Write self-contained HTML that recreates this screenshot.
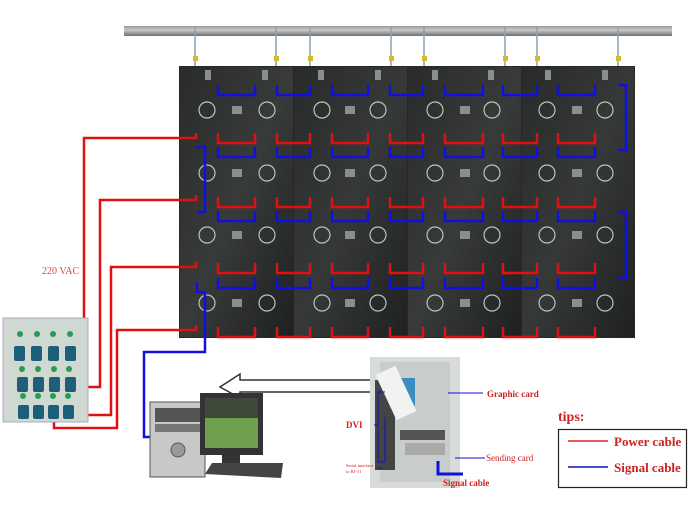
<!DOCTYPE html>
<html><head><meta charset="utf-8"><style>
html,body{margin:0;padding:0;background:#fff;}
svg{display:block}
text{font-family:"Liberation Serif",serif;}
</style></head><body>
<svg width="689" height="509" viewBox="0 0 689 509" xmlns="http://www.w3.org/2000/svg">
<defs>
<linearGradient id="bar" x1="0" y1="0" x2="0" y2="1"><stop offset="0" stop-color="#9a9a9a"/><stop offset="0.4" stop-color="#c8c8c8"/><stop offset="1" stop-color="#6e6e6e"/></linearGradient>
<linearGradient id="tile" x1="0" y1="0" x2="1" y2="1"><stop offset="0" stop-color="#2a2c2c"/><stop offset="0.5" stop-color="#3a3d3c"/><stop offset="1" stop-color="#1e2020"/></linearGradient>
</defs>
<!-- bar -->
<rect x="124" y="26" width="548" height="10" fill="url(#bar)"/>
<g stroke="#8aa0b0" stroke-width="1.5" fill="none">
<path d="M195 26v42M276 26v42M310 26v42M391 26v42M424 26v42M505 26v42M537 26v42M618 26v42"/>
</g>
<g fill="#d8b830"><rect x="193" y="56" width="5" height="5"/><rect x="274" y="56" width="5" height="5"/><rect x="308" y="56" width="5" height="5"/><rect x="389" y="56" width="5" height="5"/><rect x="422" y="56" width="5" height="5"/><rect x="503" y="56" width="5" height="5"/><rect x="535" y="56" width="5" height="5"/><rect x="616" y="56" width="5" height="5"/></g>
<!-- wall -->
<rect x="179" y="66" width="456" height="272" fill="#262828"/>
<g id="tiles">
<rect x="180" y="67" width="113" height="270" fill="url(#tile)" opacity="0.9"/>
<rect x="294" y="67" width="113" height="270" fill="url(#tile)" opacity="0.8"/>
<rect x="408" y="67" width="113" height="270" fill="url(#tile)" opacity="0.9"/>
<rect x="522" y="67" width="112" height="270" fill="url(#tile)" opacity="0.8"/>
</g>
<g fill="none" stroke="#b8c8c0" stroke-width="1.2">
<circle cx="207" cy="110" r="8"/><circle cx="267" cy="110" r="8"/><circle cx="322" cy="110" r="8"/><circle cx="378" cy="110" r="8"/><circle cx="435" cy="110" r="8"/><circle cx="492" cy="110" r="8"/><circle cx="547" cy="110" r="8"/><circle cx="605" cy="110" r="8"/>
<circle cx="207" cy="173" r="8"/><circle cx="267" cy="173" r="8"/><circle cx="322" cy="173" r="8"/><circle cx="378" cy="173" r="8"/><circle cx="435" cy="173" r="8"/><circle cx="492" cy="173" r="8"/><circle cx="547" cy="173" r="8"/><circle cx="605" cy="173" r="8"/>
<circle cx="207" cy="235" r="8"/><circle cx="267" cy="235" r="8"/><circle cx="322" cy="235" r="8"/><circle cx="378" cy="235" r="8"/><circle cx="435" cy="235" r="8"/><circle cx="492" cy="235" r="8"/><circle cx="547" cy="235" r="8"/><circle cx="605" cy="235" r="8"/>
<circle cx="207" cy="303" r="8"/><circle cx="267" cy="303" r="8"/><circle cx="322" cy="303" r="8"/><circle cx="378" cy="303" r="8"/><circle cx="435" cy="303" r="8"/><circle cx="492" cy="303" r="8"/><circle cx="547" cy="303" r="8"/><circle cx="605" cy="303" r="8"/>
</g>
<g fill="#8a8e8c">
<rect x="232" y="106" width="10" height="8"/><rect x="345" y="106" width="10" height="8"/><rect x="460" y="106" width="10" height="8"/><rect x="572" y="106" width="10" height="8"/>
<rect x="232" y="169" width="10" height="8"/><rect x="345" y="169" width="10" height="8"/><rect x="460" y="169" width="10" height="8"/><rect x="572" y="169" width="10" height="8"/>
<rect x="232" y="231" width="10" height="8"/><rect x="345" y="231" width="10" height="8"/><rect x="460" y="231" width="10" height="8"/><rect x="572" y="231" width="10" height="8"/>
<rect x="232" y="299" width="10" height="8"/><rect x="345" y="299" width="10" height="8"/><rect x="460" y="299" width="10" height="8"/><rect x="572" y="299" width="10" height="8"/>
<rect x="205" y="70" width="6" height="10"/><rect x="262" y="70" width="6" height="10"/><rect x="318" y="70" width="6" height="10"/><rect x="375" y="70" width="6" height="10"/><rect x="432" y="70" width="6" height="10"/><rect x="488" y="70" width="6" height="10"/><rect x="545" y="70" width="6" height="10"/><rect x="602" y="70" width="6" height="10"/>
</g>
<!-- brackets -->
<g fill="none" stroke-width="2.5">
<g stroke="#1010e0">
<path id="b1" d="M218 85v10h37v-10M277 85v10h33v-10M332 85v10h36v-10M390 85v10h33v-10M445 85v10h38v-10M503 85v10h34v-10M558 85v10h37v-10"/>
<use href="#b1" y="62"/><use href="#b1" y="126"/><use href="#b1" y="193"/>
<path d="M618 85h8v65h-8M618 212h8v66h-8"/>
<path d="M197 147h8v65h-8"/>
<path d="M197 282v10h8v60h-61v85h8"/>
</g>
<g stroke="#e01010">
<path id="r1" d="M218 133v10h37v-10M277 133v10h33v-10M332 133v10h36v-10M390 133v10h33v-10M445 133v10h38v-10M503 133v10h34v-10M558 133v10h37v-10"/>
<use href="#r1" y="64"/><use href="#r1" y="130"/><use href="#r1" y="194"/>
<path d="M196 133v5h-112v219h-12"/>
<path d="M196 195v5h-96v187h-30"/>
<path d="M196 262v5h-85v148h-41"/>
<path d="M196 325v5h-79v98h-63v-13"/>
</g>
</g>
<text x="42" y="274" font-size="10" fill="#e04040">220 VAC</text>
<!-- power box -->
<rect x="3" y="318" width="85" height="104" fill="#cfd9d2" stroke="#aab" stroke-width="1"/>
<g fill="#2a9a58"><circle cx="20" cy="334" r="3"/><circle cx="37" cy="334" r="3"/><circle cx="53" cy="334" r="3"/><circle cx="70" cy="334" r="3"/><circle cx="22" cy="369" r="3"/><circle cx="38" cy="369" r="3"/><circle cx="54" cy="369" r="3"/><circle cx="69" cy="369" r="3"/><circle cx="23" cy="396" r="3"/><circle cx="38" cy="396" r="3"/><circle cx="53" cy="396" r="3"/><circle cx="68" cy="396" r="3"/></g>
<g fill="#1d5f78"><rect x="14" y="346" width="11" height="15" rx="2"/><rect x="31" y="346" width="11" height="15" rx="2"/><rect x="48" y="346" width="11" height="15" rx="2"/><rect x="65" y="346" width="11" height="15" rx="2"/><rect x="17" y="377" width="11" height="15" rx="2"/><rect x="33" y="377" width="11" height="15" rx="2"/><rect x="49" y="377" width="11" height="15" rx="2"/><rect x="65" y="377" width="11" height="15" rx="2"/><rect x="18" y="405" width="11" height="14" rx="2"/><rect x="33" y="405" width="11" height="14" rx="2"/><rect x="48" y="405" width="11" height="14" rx="2"/><rect x="63" y="405" width="11" height="14" rx="2"/></g>
<!-- arrow -->
<path d="M370 380 L240 380 L240 374 L220 387 L240 398 L240 392 L370 392" fill="#fff" stroke="#333" stroke-width="1.5"/>
<!-- computer -->
<rect x="150" y="402" width="55" height="75" fill="#c8c8c8" stroke="#555"/>
<rect x="155" y="408" width="45" height="14" fill="#555"/>
<rect x="155" y="424" width="45" height="8" fill="#777"/>
<circle cx="178" cy="450" r="7" fill="#999" stroke="#555"/>
<rect x="200" y="393" width="63" height="62" fill="#333"/>
<rect x="205" y="398" width="53" height="50" fill="#6fa050"/>
<rect x="205" y="398" width="53" height="20" fill="#3d4a3a"/>
<rect x="222" y="455" width="18" height="8" fill="#333"/>
<path d="M205 474 L212 463 L283 463 L281 478 Z" fill="#444"/>
<!-- photo -->
<rect x="370" y="357" width="90" height="131" fill="#d8dcd8"/>
<rect x="380" y="362" width="70" height="120" fill="#c8ccca"/>
<rect x="395" y="378" width="20" height="28" fill="#3b8dc0"/>
<rect x="375" y="380" width="20" height="90" fill="#444"/>
<rect x="385" y="368" width="22" height="50" fill="#f2f2f2" transform="rotate(-25 396 393)"/>
<rect x="400" y="430" width="45" height="10" fill="#555"/>
<rect x="405" y="443" width="40" height="12" fill="#aaa"/>
<g stroke="#1010d0" fill="none" stroke-width="1">
<path d="M448 393h35M455 458h30M385 392h-7v70h7M378 425h-4M385 417v45M382 468h-5"/>
</g>
<path d="M438 461v13h25" stroke="#1010e0" stroke-width="3" fill="none"/>
<text x="487" y="397" font-size="9" fill="#d02020" font-weight="bold">Graphic card</text>
<text x="486" y="461" font-size="9" fill="#d02020" font-family="Liberation Sans,sans-serif">Sending card</text>
<text x="443" y="486" font-size="9" fill="#d02020" font-weight="bold">Signal cable</text>
<text x="346" y="428" font-size="9" fill="#d02020" font-weight="bold">DVI</text>
<text x="346" y="467" font-size="4.5" fill="#d02020">Serial interface</text>
<text x="346" y="473" font-size="4.5" fill="#d02020">to RJ-11</text>
<!-- tips -->
<text x="558" y="421" font-size="14" font-weight="bold" fill="#d02020">tips:</text>
<rect x="558.5" y="429.5" width="128" height="58" fill="#fff" stroke="#222" stroke-width="1.2"/>
<line x1="568" y1="441" x2="608" y2="441" stroke="#e02020" stroke-width="1.5"/>
<line x1="568" y1="467" x2="608" y2="467" stroke="#1010c0" stroke-width="1.5"/>
<text x="614" y="446" font-size="13" font-weight="bold" fill="#d02020">Power cable</text>
<text x="614" y="472" font-size="13" font-weight="bold" fill="#d02020">Signal cable</text>
</svg>
</body></html>
